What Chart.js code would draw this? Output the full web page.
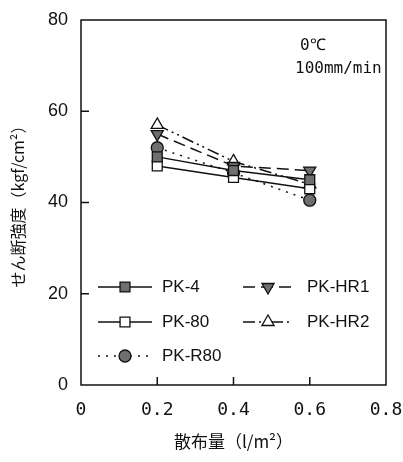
<!DOCTYPE html>
<html>
<head>
<meta charset="utf-8">
<script src="https://cdn.jsdelivr.net/npm/chart.js@4.4.1/dist/chart.umd.min.js"></script>
<style>
  html, body { margin: 0; padding: 0; background: #fff; }
  #wrap { width: 403px; height: 462px; }
</style>
</head>
<body>
<div id="wrap"><canvas id="c" width="403" height="462"></canvas></div>
<script>
// Application rate (l/m²)
const rates = [0.2, 0.4, 0.6];
// Shear strength (kgf/cm²) per mix
const pk4   = [50, 47, 45];
const pk80  = [48, 45.5, 43];
const pkR80 = [52, 46.5, 40.5];
const pkHR1 = [55, 48, 47];
const pkHR2 = [57, 49, 44];
const seriesNames = ['PK-4', 'PK-80', 'PK-R80', 'PK-HR1', 'PK-HR2'];
const xTicks = [0, 0.2, 0.4, 0.6, 0.8];
const yTicks = [0, 20, 40, 60, 80];
const noteLines = ['0℃', '100mm/min'];

const pts = arr => arr.map((v, i) => ({ x: rates[i], y: v }));

const styles = [
  { data: pk4,   shape: 'rect',     fill: '#6f6f6f', dash: [],                 rot: 0 },
  { data: pk80,  shape: 'rect',     fill: '#ffffff', dash: [],                 rot: 0 },
  { data: pkR80, shape: 'circle',   fill: '#6f6f6f', dash: [2, 6],             rot: 0 },
  { data: pkHR1, shape: 'triangle', fill: '#6f6f6f', dash: [12, 6],            rot: 180 },
  { data: pkHR2, shape: 'triangle', fill: '#ffffff', dash: [12, 4, 2, 4, 2, 4], rot: 0 }
];

const datasets = styles.map((s, i) => ({
  label: seriesNames[i],
  data: pts(s.data),
  borderColor: '#111',
  borderWidth: 1.5,
  borderDash: s.dash,
  pointStyle: s.shape,
  pointRotation: s.rot,
  pointRadius: s.shape === 'circle' ? 6 : 7,
  pointBackgroundColor: s.fill,
  pointBorderColor: '#111',
  pointBorderWidth: 1.3,
  fill: false,
  tension: 0
}));

// Frame, inward ticks, note text and in-plot legend
const decor = {
  id: 'decor',
  afterDraw(chart) {
    const ctx = chart.ctx;
    const a = chart.chartArea;
    const xs = chart.scales.x, ys = chart.scales.y;
    ctx.save();
    ctx.strokeStyle = '#111';
    ctx.lineWidth = 1.5;
    ctx.setLineDash([]);
    ctx.strokeRect(a.left, a.top, a.right - a.left, a.bottom - a.top);
    ctx.beginPath();
    xTicks.slice(1, -1).forEach(v => {
      const px = xs.getPixelForValue(v);
      ctx.moveTo(px, a.bottom); ctx.lineTo(px, a.bottom - 8);
    });
    yTicks.slice(1, -1).forEach(v => {
      const py = ys.getPixelForValue(v);
      ctx.moveTo(a.left, py); ctx.lineTo(a.left + 8, py);
    });
    ctx.stroke();

    // note text
    ctx.fillStyle = '#111';
    ctx.font = '16px "DejaVu Sans Mono", monospace';
    ctx.textBaseline = 'middle';
    ctx.textAlign = 'left';
    ctx.fillText(noteLines[0], 300, 46);
    ctx.fillText(noteLines[1], 295, 69);

    // legend
    const cells = [
      { i: 0, lx: 98,  mx: 125, rx: 152, tx: 162, y: 287 },
      { i: 1, lx: 98,  mx: 125, rx: 152, tx: 162, y: 322 },
      { i: 2, lx: 98,  mx: 125, rx: 152, tx: 162, y: 356 },
      { i: 3, lx: 243, mx: 268, rx: 293, tx: 307, y: 287 },
      { i: 4, lx: 243, mx: 268, rx: 293, tx: 307, y: 322 }
    ];
    cells.forEach(c => {
      const ds = chart.data.datasets[c.i];
      ctx.save();
      ctx.strokeStyle = '#111';
      ctx.lineWidth = 1.5;
      ctx.setLineDash(ds.borderDash);
      ctx.beginPath();
      ctx.moveTo(c.lx, c.y); ctx.lineTo(c.rx, c.y);
      ctx.stroke();
      ctx.restore();
      ctx.save();
      ctx.fillStyle = ds.pointBackgroundColor;
      ctx.strokeStyle = '#111';
      ctx.lineWidth = 1.3;
      Chart.helpers.drawPoint(ctx, {
        pointStyle: ds.pointStyle,
        rotation: ds.pointRotation,
        radius: ds.pointRadius,
        borderWidth: 1.3
      }, c.mx, c.y);
      ctx.restore();
      ctx.fillStyle = '#111';
      ctx.font = '17px "Liberation Sans", Arial, sans-serif';
      ctx.textAlign = 'left';
      ctx.textBaseline = 'middle';
      ctx.fillText(ds.label, c.tx, c.y);
    });
    ctx.restore();
  }
};

new Chart(document.getElementById('c'), {
  type: 'line',
  data: { datasets },
  options: {
    responsive: false,
    animation: false,
    devicePixelRatio: 1,
    layout: { padding: { top: 20, right: 17, left: 0, bottom: 0 } },
    plugins: { legend: { display: false }, tooltip: { enabled: false } },
    scales: {
      x: {
        type: 'linear',
        min: 0, max: 0.8,
        afterBuildTicks: s => { s.ticks = xTicks.map(v => ({ value: v })); },
        afterFit: s => { s.height = 77; s.paddingLeft = 0; s.paddingRight = 0; },
        grid: { display: false, drawTicks: false },
        border: { display: false },
        ticks: {
          padding: 15,
          color: '#111',
          font: { family: '"DejaVu Sans Mono", monospace', size: 18 },
          callback: v => (v === 0 ? '0' : v.toFixed(1))
        },
        title: {
          display: true,
          text: '散布量（l/m²）',
          color: '#111',
          font: { family: '"Noto Sans CJK JP", sans-serif', size: 17 },
          padding: { top: 0, bottom: 10 }
        }
      },
      y: {
        min: 0, max: 80,
        afterBuildTicks: s => { s.ticks = yTicks.map(v => ({ value: v })); },
        afterFit: s => { s.width = 81; s.paddingTop = 0; s.paddingBottom = 0; },
        grid: { display: false, drawTicks: false },
        border: { display: false },
        ticks: {
          padding: 13,
          color: '#111',
          font: { family: '"Liberation Sans", Arial, sans-serif', size: 18 }
        },
        title: {
          display: true,
          text: 'せん断強度（kgf/cm²）',
          color: '#111',
          font: { family: '"Noto Sans CJK JP", sans-serif', size: 16 },
          padding: { top: 8, bottom: 4 }
        }
      }
    }
  },
  plugins: [decor]
});
</script>
</body>
</html>
